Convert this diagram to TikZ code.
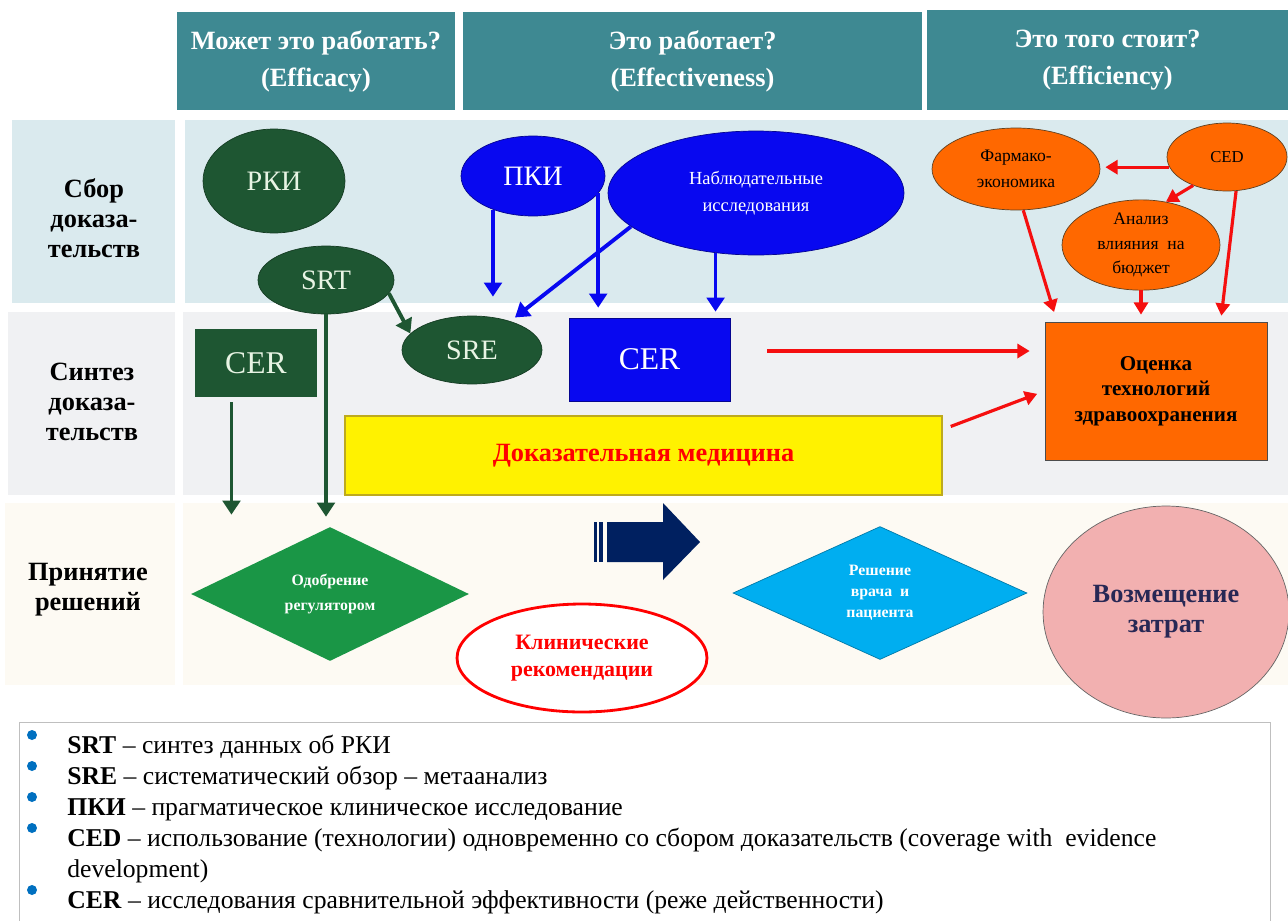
\documentclass[tikz,border=0pt]{standalone}
\usepackage{fontspec}
\setmainfont{Liberation Serif}
\usetikzlibrary{shapes.geometric,arrows.meta,calc}

\definecolor{hdrteal}{RGB}{62,137,146}
\definecolor{rowblue}{RGB}{218,234,238}
\definecolor{rowgray}{RGB}{240,241,243}
\definecolor{rowcream}{RGB}{253,250,243}
\definecolor{dkgreen}{RGB}{30,86,50}
\definecolor{nodeblue}{RGB}{8,8,240}
\definecolor{htaorange}{RGB}{255,104,0}
\definecolor{ebmborder}{RGB}{190,170,30}
\definecolor{regreen}{RGB}{26,150,70}
\definecolor{decidecyan}{RGB}{0,174,240}
\definecolor{reimbpink}{RGB}{242,176,176}
\definecolor{arrred}{RGB}{245,15,15}
\definecolor{navyarr}{RGB}{0,32,96}
\definecolor{bulblue}{RGB}{0,112,192}
\definecolor{reimbtext}{RGB}{40,40,85}
\definecolor{paletext}{RGB}{232,244,228}

\newcommand{\fs}[2]{\fontsize{#1}{#2}\selectfont}

\tikzset{
  header/.style={fill=hdrteal, text=white, font=\bfseries\fs{15}{21}, align=center, inner sep=0pt},
  rowlabel/.style={font=\bfseries\fs{15}{17}, align=center},
  greenell/.style={ellipse, fill=dkgreen, draw=dkgreen!70!black, inner sep=0pt, text=paletext},
  blueell/.style={ellipse, fill=nodeblue, draw=nodeblue!60!black, inner sep=0pt, text=white},
  orangeell/.style={ellipse, fill=htaorange, draw=brown!50!black, inner sep=0pt, align=center},
  garrow/.style={draw=dkgreen, line width=2.2pt, -{Triangle[width=10pt,length=8pt]}},
  barrow/.style={draw=nodeblue, line width=2.2pt, -{Triangle[width=10pt,length=8pt]}},
  rarrow/.style={draw=arrred, line width=1.8pt, -{Triangle[width=8pt,length=7pt]}}
}

\begin{document}
\begin{tikzpicture}[x=0.02cm, y=-0.02cm]
  \useasboundingbox (0,0) rectangle (1288,920);
  % заголовки
  \node[header, minimum width=5.56cm, minimum height=1.96cm] (hdrA) at (316,61) {Может это работать?\\(Efficacy)};
  \node[header, minimum width=9.18cm, minimum height=1.96cm] (hdrB) at (692.5,61) {Это работает?\\(Effectiveness)};
  \node[header, minimum width=7.22cm, minimum height=2.0cm] (hdrC) at (1107.5,60) {Это того стоит?\\(Efficiency)};
  % полосы строк
  \fill[rowblue] (12,120) rectangle (175,303);
  \fill[rowblue] (185,120) rectangle (1288,303);
  \fill[rowgray] (8,312) rectangle (175,495);
  \fill[rowgray] (183,312) rectangle (1288,495);
  \fill[rowcream] (5,503) rectangle (175,685);
  \fill[rowcream] (183,503) rectangle (1288,685);
  \node[rowlabel] (rowA) at (94,218) {Сбор\\доказа-\\тельств};
  \node[rowlabel] (rowB) at (92,402) {Синтез\\доказа-\\тельств};
  \node[rowlabel] (rowC) at (88,590) {Принятие\\решений};

  % эффективность в испытаниях
  \node[greenell, minimum width=2.84cm, minimum height=2.08cm, font=\fs{16}{16}] (rki) at (274,181) {РКИ};
  \node[greenell, minimum width=2.72cm, minimum height=1.36cm, font=\fs{16}{16}] (srt) at (326,280) {SRT};
  \node[fill=dkgreen, text=paletext, minimum width=2.44cm, minimum height=1.36cm, font=\fs{18}{18}] (cerg) at (256,363) {CER};
  \node[greenell, minimum width=2.8cm, minimum height=1.36cm, font=\fs{16}{16}] (sre) at (472,350) {SRE};

  % реальная практика
  \node[blueell, minimum width=2.88cm, minimum height=1.6cm, font=\fs{16}{16}] (pki) at (533,176) {ПКИ};
  \node[blueell, minimum width=5.92cm, minimum height=2.48cm, font=\fs{10.5}{15}, align=center] (obs) at (756,193) {Наблюдательные\\исследования};
  \node[fill=nodeblue, draw=nodeblue!60!black, text=white, minimum width=3.22cm, minimum height=1.66cm, font=\fs{18}{18}] (cerb) at (649.5,359.5) {CER};
  \node[fill=yellow, draw=ebmborder, line width=1.5pt, text=red, minimum width=11.94cm, minimum height=1.58cm, font=\bfseries\fs{15}{18}] (ebm) at (643.5,455.5) {Доказательная медицина};

  % экономика
  \node[orangeell, minimum width=3.36cm, minimum height=1.64cm, font=\fs{10}{14.5}] (pharm) at (1016,169) {Фармако-\\экономика};
  \node[orangeell, minimum width=2.4cm, minimum height=1.36cm, font=\fs{9.5}{12}] (ced) at (1227,157) {CED};
  \node[orangeell, minimum width=3.16cm, minimum height=1.68cm, font=\fs{10}{13.9}] (bia) at (1141,245) {Анализ\\влияния\ \ на\\бюджет};
  \node[fill=htaorange, draw=black!70, minimum width=4.44cm, minimum height=2.76cm, font=\bfseries\fs{12}{14.5}, align=center] (hta) at (1156,391) {Оценка\\технологий\\здравоохранения};

  % принятие решений
  \node[diamond, fill=regreen, text=white, inner sep=0pt, minimum width=5.56cm, minimum height=2.68cm, font=\bfseries\fs{9}{14}, align=center] (regapp) at (330,594) {Одобрение\\регулятором};
  \node[ellipse, draw=red, line width=1.6pt, fill=white, text=red, inner sep=0pt, minimum width=5.0cm, minimum height=2.16cm, font=\bfseries\fs{12.5}{15}, align=center] (clin) at (582,658) {Клинические\\рекомендации};
  \node[diamond, fill=decidecyan, draw=decidecyan!70!black, text=white, inner sep=0pt, minimum width=5.88cm, minimum height=2.66cm, font=\bfseries\fs{9}{12}, align=center] (decide) at (880,593) {Решение\\врача\ \ и\\пациента};
  \node[ellipse, fill=reimbpink, draw=black!60, inner sep=0pt, minimum width=4.92cm, minimum height=4.24cm, text=reimbtext, font=\bfseries\fs{15}{17}, align=center] (reimb) at (1166,612) {Возмещение\\затрат};
  % большая стрелка
  \fill[navyarr] (607,522) -- (663,522) -- (663,503) -- (700,542) -- (663,580) -- (663,562) -- (607,562) -- cycle;
  \fill[navyarr] (594,522) rectangle (597,562);
  \fill[navyarr] (599,522) rectangle (603,562);

  % зелёные стрелки
  \coordinate (cergOut) at ($(cerg.south west)!0.3!(cerg.south east)$);
  \draw[garrow] (srt.-12) -- (sre.165);
  \draw[garrow, shorten >=0.2cm] (srt.south) -- (srt.south |- regapp.north);
  \draw[garrow, shorten <=0.1cm, shorten >=0.24cm] (cergOut) -- (cergOut |- regapp.north);
  % синие стрелки
  \draw[barrow, shorten >=0.38cm] (pki.220) -- (pki.220 |- sre.north);
  \draw[barrow, shorten >=0.2cm] (pki.-15) -- (pki.-15 |- cerb.north);
  \draw[barrow, shorten >=0.12cm] (obs.195) -- (sre.37);
  \draw[barrow, shorten >=0.12cm] (obs.-124) -- (obs.-124 |- cerb.north);
  % красные стрелки
  \draw[rarrow, shorten <=0.74cm, shorten >=0.3cm] (cerb.6) -- (cerb.6 -| hta.west);
  \draw[rarrow, shorten <=0.16cm, shorten >=0.16cm] (ebm.5) -- (hta.west);
  \draw[rarrow, shorten >=0.2cm] (pharm.-80) -- (hta.145);
  \draw[rarrow, shorten >=0.14cm] (bia.south) -- (bia.south |- hta.north);
  \draw[rarrow, shorten >=0.12cm] (ced.-75) -- (hta.47);
  \draw[rarrow, shorten >=0.1cm] (ced.190) -- (ced.190 -| pharm.east);
  \draw[rarrow] (ced.-140) -- (bia.60);

  % пояснения
  \draw[gray!50, fill=white] (19,722) rectangle (1270,940);
  \foreach \y in {735,766,797,828,890}
    \fill[bulblue] (32,\y) circle (0.1cm);
  \node[anchor=north west, inner sep=0pt, align=left, font=\fs{14.6}{17.6}] (legend) at (67,735) {%
    \textbf{SRT} – синтез данных об РКИ\\
    \textbf{SRE} – систематический обзор – метаанализ\\
    \textbf{ПКИ} – прагматическое клиническое исследование\\
    \textbf{CED} – использование (технологии) одновременно со сбором доказательств (coverage with\ \ evidence\\
    development)\\
    \textbf{CER} – исследования сравнительной эффективности (реже действенности)};
\end{tikzpicture}
\end{document}
